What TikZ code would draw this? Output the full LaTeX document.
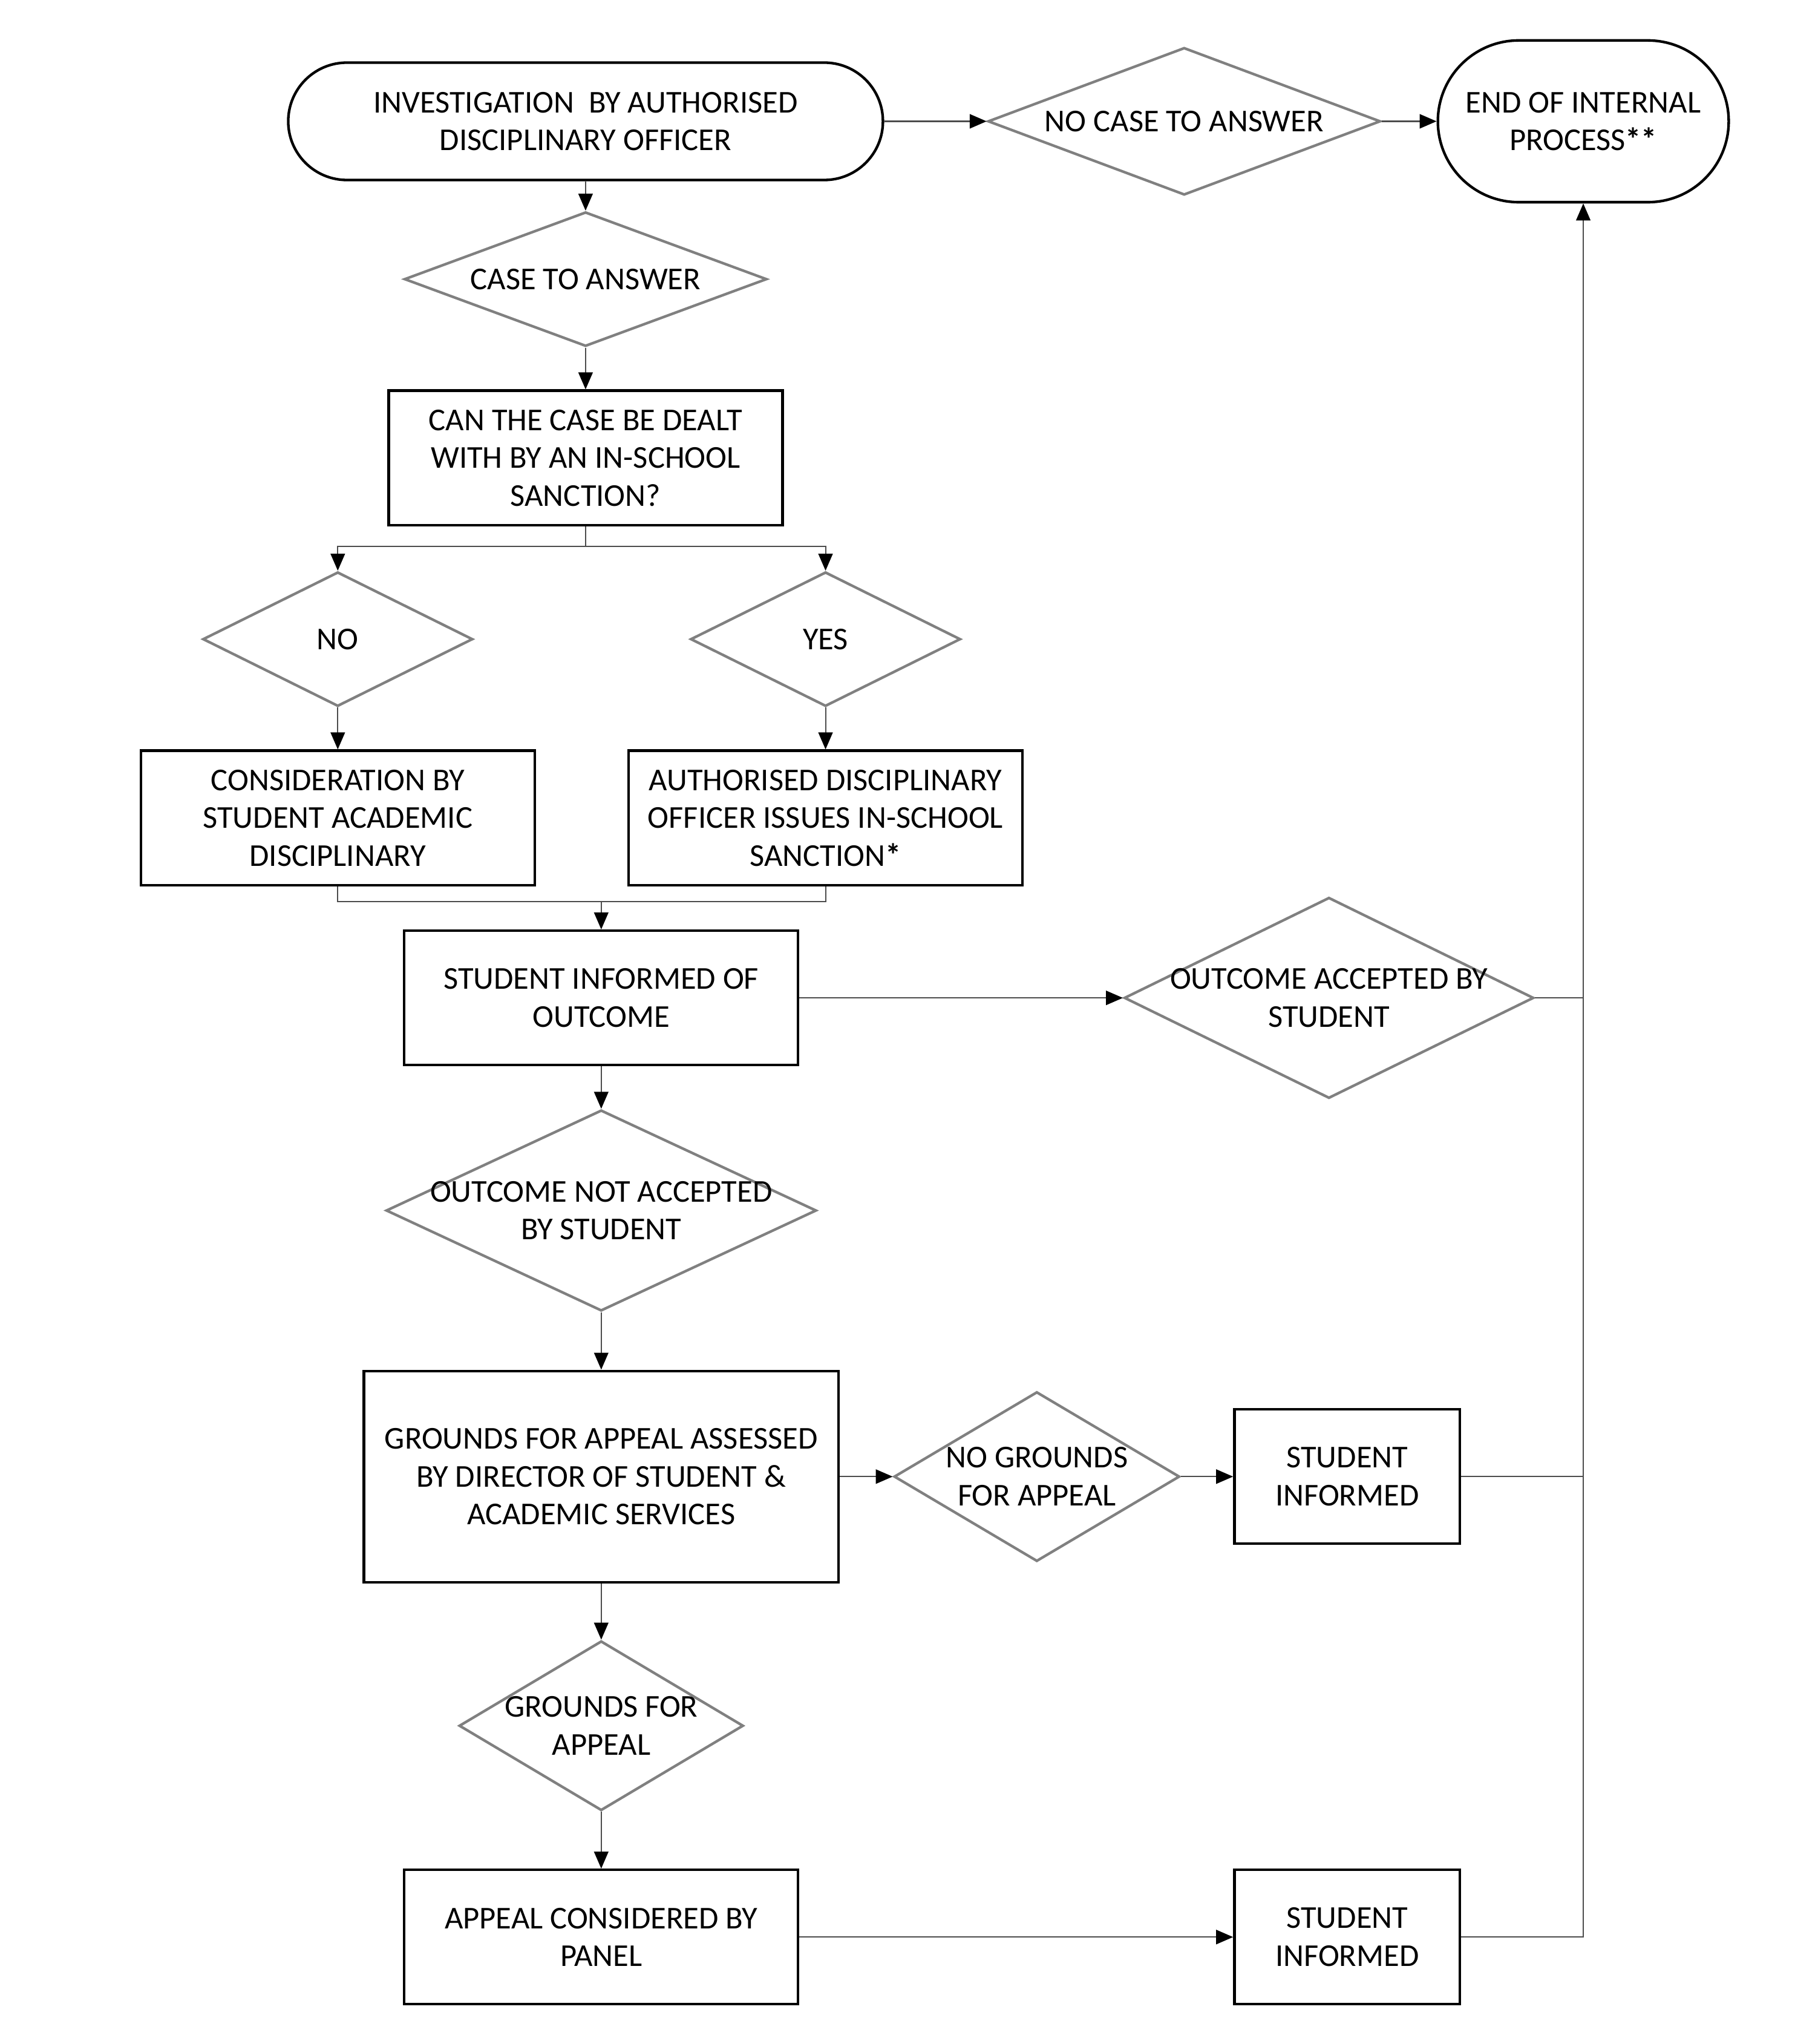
\documentclass[tikz,border=0pt]{standalone}
\usepackage{fontspec}
\setmainfont{Carlito}
\usetikzlibrary{arrows.meta,shapes.geometric}
\newcommand{\bast}{\textbf{*}}
\begin{document}
\begin{tikzpicture}[x=1pt,y=-1pt,
  every node/.style={font=\fontsize{24.4}{29}\selectfont, align=center, inner sep=0pt},
  box/.style={draw=black, line width=2pt, minimum width=302pt, minimum height=103pt},
  term/.style={draw=black, line width=2pt, rounded corners=#1},
  dia/.style={draw=black!50, line width=2pt, shape=diamond, inner sep=0pt},
  lbl/.style={font=\fontsize{24.4}{29}\selectfont, align=center},
  line/.style={draw=black!70, line width=1pt},
  conn/.style={line, -{Triangle[length=13pt,width=11pt,color=black]}}
]
\useasboundingbox (0,0) rectangle (1376,1567);

\node[term=45pt, minimum width=456pt, minimum height=90pt] (start) at (449,93) {INVESTIGATION~ BY AUTHORISED\\DISCIPLINARY OFFICER};
\node[dia, minimum width=301pt, minimum height=113pt, label={[lbl]center:NO CASE TO ANSWER}] (nocase) at (908,93) {};
\node[term=62pt, minimum width=223pt, minimum height=124pt] (endn) at (1214,93) {END OF INTERNAL\\PROCESS\bast\bast};

\node[dia, minimum width=278pt, minimum height=103pt, label={[lbl]center:CASE TO ANSWER}] (case) at (449,214) {};
\node[box] (can) at (449,351) {CAN THE CASE BE DEALT\\WITH BY AN IN-SCHOOL\\SANCTION?};

\node[dia, minimum width=207pt, minimum height=103pt, label={[lbl]center:NO}] (no) at (259,490) {};
\node[dia, minimum width=207pt, minimum height=103pt, label={[lbl]center:YES}] (yes) at (633,490) {};

\node[box] (cons) at (259,627) {CONSIDERATION BY\\STUDENT ACADEMIC\\DISCIPLINARY};
\node[box] (auth) at (633,627) {AUTHORISED DISCIPLINARY\\OFFICER ISSUES IN-SCHOOL\\SANCTION\bast};

\node[box] (inf) at (461,765) {STUDENT INFORMED OF\\OUTCOME};
\node[dia, minimum width=314pt, minimum height=154pt, label={[lbl]center:OUTCOME ACCEPTED BY\\STUDENT}] (acc) at (1019,765) {};

\node[dia, minimum width=330pt, minimum height=154pt, label={[lbl]center:OUTCOME NOT ACCEPTED\\BY STUDENT}] (notacc) at (461,928) {};

\node[box, minimum width=364pt, minimum height=162pt] (gr) at (461,1132) {GROUNDS FOR APPEAL ASSESSED\\BY DIRECTOR OF STUDENT \&\\ACADEMIC SERVICES};
\node[dia, minimum width=219pt, minimum height=130pt, label={[lbl]center:NO GROUNDS\\FOR APPEAL}] (nogr) at (795,1132) {};
\node[box, minimum width=173pt] (si1) at (1033,1132) {STUDENT\\INFORMED};

\node[dia, minimum width=218pt, minimum height=130pt, label={[lbl]center:GROUNDS FOR\\APPEAL}] (grd) at (461,1323) {};
\node[box] (panel) at (461,1485) {APPEAL CONSIDERED BY\\PANEL};
\node[box, minimum width=173pt] (si2) at (1033,1485) {STUDENT\\INFORMED};

\coordinate (j1) at (449,419);
\coordinate (j2) at (461,691);

\draw[conn] (start) -- (nocase);
\draw[conn] (nocase) -- (endn);
\draw[conn] (start) -- (case);
\draw[conn] (case) -- (can);
\draw[line] (can.south) -- (j1);
\draw[conn] (j1) -| (no);
\draw[conn] (j1) -| (yes);
\draw[conn] (no) -- (cons);
\draw[conn] (yes) -- (auth);
\draw[line] (cons.south) -- (cons.south |- j2) -- (auth.south |- j2) -- (auth.south);
\draw[conn] (j2) -- (inf);
\draw[conn] (inf) -- (acc);
\draw[line] (acc.east) -- (acc.east -| endn.south);
\draw[conn] (inf) -- (notacc);
\draw[conn] (notacc) -- (gr);
\draw[conn] (gr) -- (nogr);
\draw[conn] (nogr) -- (si1);
\draw[line] (si1.east) -- (si1.east -| endn.south);
\draw[conn] (gr) -- (grd);
\draw[conn] (grd) -- (panel);
\draw[conn] (panel) -- (si2);
\draw[conn] (si2.east) -| (endn.south);
\end{tikzpicture}
\end{document}
